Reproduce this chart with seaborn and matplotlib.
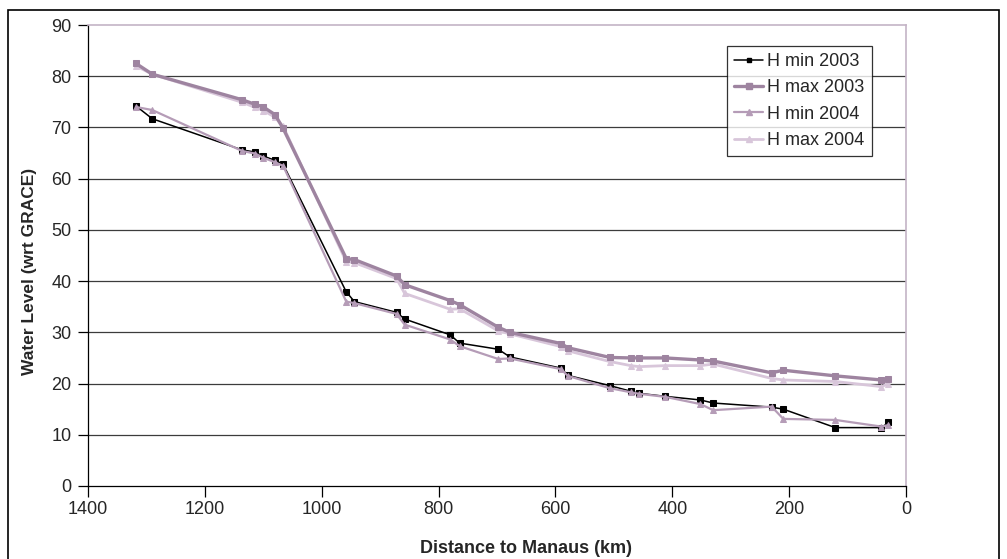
import matplotlib
matplotlib.use("Agg")
import matplotlib.pyplot as plt
import seaborn as sns
import pandas as pd
from matplotlib.patches import Rectangle
from matplotlib.lines import Line2D

# ---- data ----
distance_km = [1318, 1290, 1136, 1114, 1100, 1080, 1066, 958, 944, 872, 858, 780, 764,
               698, 678, 590, 579, 507, 471, 457, 412, 352, 330, 230, 210, 121, 42, 30]
h_min_2003 = [74.2, 71.7, 65.6, 65.2, 64.4, 63.6, 62.8, 37.9, 36.0, 33.9, 32.6, 29.5, 27.9,
              26.7, 25.2, 23.0, 21.6, 19.6, 18.5, 18.1, 17.5, 16.8, 16.2, 15.4, 15.0, 11.4, 11.4, 12.4]
h_max_2003 = [82.5, 80.4, 75.4, 74.5, 74.0, 72.5, 69.8, 44.4, 44.2, 41.0, 39.3, 36.2, 35.4,
              31.0, 30.0, 27.8, 27.0, 25.1, 25.0, 25.0, 25.0, 24.6, 24.4, 22.1, 22.6, 21.5, 20.7, 20.9]
h_min_2004 = [74.0, 73.4, 65.4, 64.9, 64.1, 63.2, 62.5, 36.0, 35.7, 33.6, 31.5, 28.6, 27.3,
              24.8, 24.9, 22.8, 21.5, 19.1, 18.3, 18.0, 17.4, 16.0, 14.8, 15.5, 13.1, 12.9, 11.6, 11.9]
h_max_2004 = [82.0, 80.4, 74.9, 73.9, 73.3, 72.0, 70.2, 43.8, 43.6, 40.5, 37.6, 34.5, 34.6,
              30.3, 29.7, 27.2, 26.4, 24.3, 23.5, 23.3, 23.5, 23.5, 23.8, 21.0, 20.7, 20.4, 19.4, 20.0]

series_names = ["H min 2003", "H max 2003", "H min 2004", "H max 2004"]
series_values = [h_min_2003, h_max_2003, h_min_2004, h_max_2004]
x_ticks = [1400, 1200, 1000, 800, 600, 400, 200, 0]
y_ticks = [0, 10, 20, 30, 40, 50, 60, 70, 80, 90]

# ---- styles ----
colors = {"H min 2003": "#000000", "H max 2003": "#9E84A0",
          "H min 2004": "#B59CB7", "H max 2004": "#D8C6DA"}
markers = {"H min 2003": "s", "H max 2003": "s", "H min 2004": "^", "H max 2004": "^"}
lws = {"H min 2003": 1.1, "H max 2003": 2.4, "H min 2004": 1.6, "H max 2004": 2.0}
msz = {"H min 2003": 3.8, "H max 2003": 4.5, "H min 2004": 5.0, "H max 2004": 5.0}

sns.set_style("white")
plt.rcParams["font.family"] = ["Liberation Sans", "DejaVu Sans"]

fig = plt.figure(figsize=(10.07, 5.59), dpi=100)
ax = fig.add_axes([88 / 1007, 1 - 486 / 559, (906 - 88) / 1007, (486 - 25) / 559])

rows = []
for name, vals in zip(series_names, series_values):
    for d, v in zip(distance_km, vals):
        rows.append({"Distance": d, "Level": v, "Series": name})
df = pd.DataFrame(rows)

for name in ["H min 2003", "H min 2004", "H max 2004", "H max 2003"]:
    sub = df[df["Series"] == name]
    sns.lineplot(data=sub, x="Distance", y="Level", ax=ax, color=colors[name],
                 marker=markers[name], markersize=msz[name], linewidth=lws[name],
                 markeredgecolor=colors[name], sort=False, estimator=None, legend=False, zorder=3)

ax.set_xlim(1400, 0)
ax.set_ylim(0, 90)
ax.set_xticks(x_ticks)
ax.set_yticks(y_ticks)
ax.set_xticklabels([str(t) for t in x_ticks])
ax.set_yticklabels([str(t) for t in y_ticks])

for y in y_ticks[1:-1]:
    ax.axhline(y, color="#3c3c3c", lw=0.9, zorder=1)

for s in ["left", "bottom"]:
    ax.spines[s].set_color("#000000")
    ax.spines[s].set_linewidth(0.9)
for s in ["top", "right"]:
    ax.spines[s].set_color("#C4B4C6")
    ax.spines[s].set_linewidth(1.2)

ax.tick_params(axis="y", direction="out", length=7, width=0.9, color="#000000",
               labelsize=13, pad=5, left=True)
ax.tick_params(axis="x", direction="out", length=8, width=0.9, color="#000000",
               labelsize=13, pad=3, bottom=True)

ax.set_xlabel("Distance to Manaus (km)", fontsize=13, fontweight="bold")
ax.set_ylabel("Water Level (wrt GRACE)", fontsize=12.5, fontweight="bold")
ax.yaxis.set_label_coords(-0.062, 0.466)
ax.xaxis.set_label_coords(0.535, -0.117)

handles = [Line2D([0], [0], color=colors[n], marker=markers[n], markersize=msz[n] - 0.5,
                  lw=lws[n], markeredgecolor=colors[n]) for n in series_names]
leg = ax.legend(handles, series_names, loc="upper left", bbox_to_anchor=(0.781, 0.955),
                frameon=True, fancybox=False, shadow=False, fontsize=13,
                handlelength=1.6, handletextpad=0.25, labelspacing=0.52,
                borderpad=0.4, borderaxespad=0)
leg.get_frame().set_edgecolor("#000000")
leg.get_frame().set_linewidth(0.9)
leg.set_zorder(5)

# outer chart frame
fig.patches.append(Rectangle((8 / 1007, -0.05), (999 - 8) / 1007, 1.05 - 10 / 559,
                             transform=fig.transFigure, fill=False, edgecolor="#000000",
                             lw=1.2, zorder=0))

fig.savefig("out.png", dpi=100)
